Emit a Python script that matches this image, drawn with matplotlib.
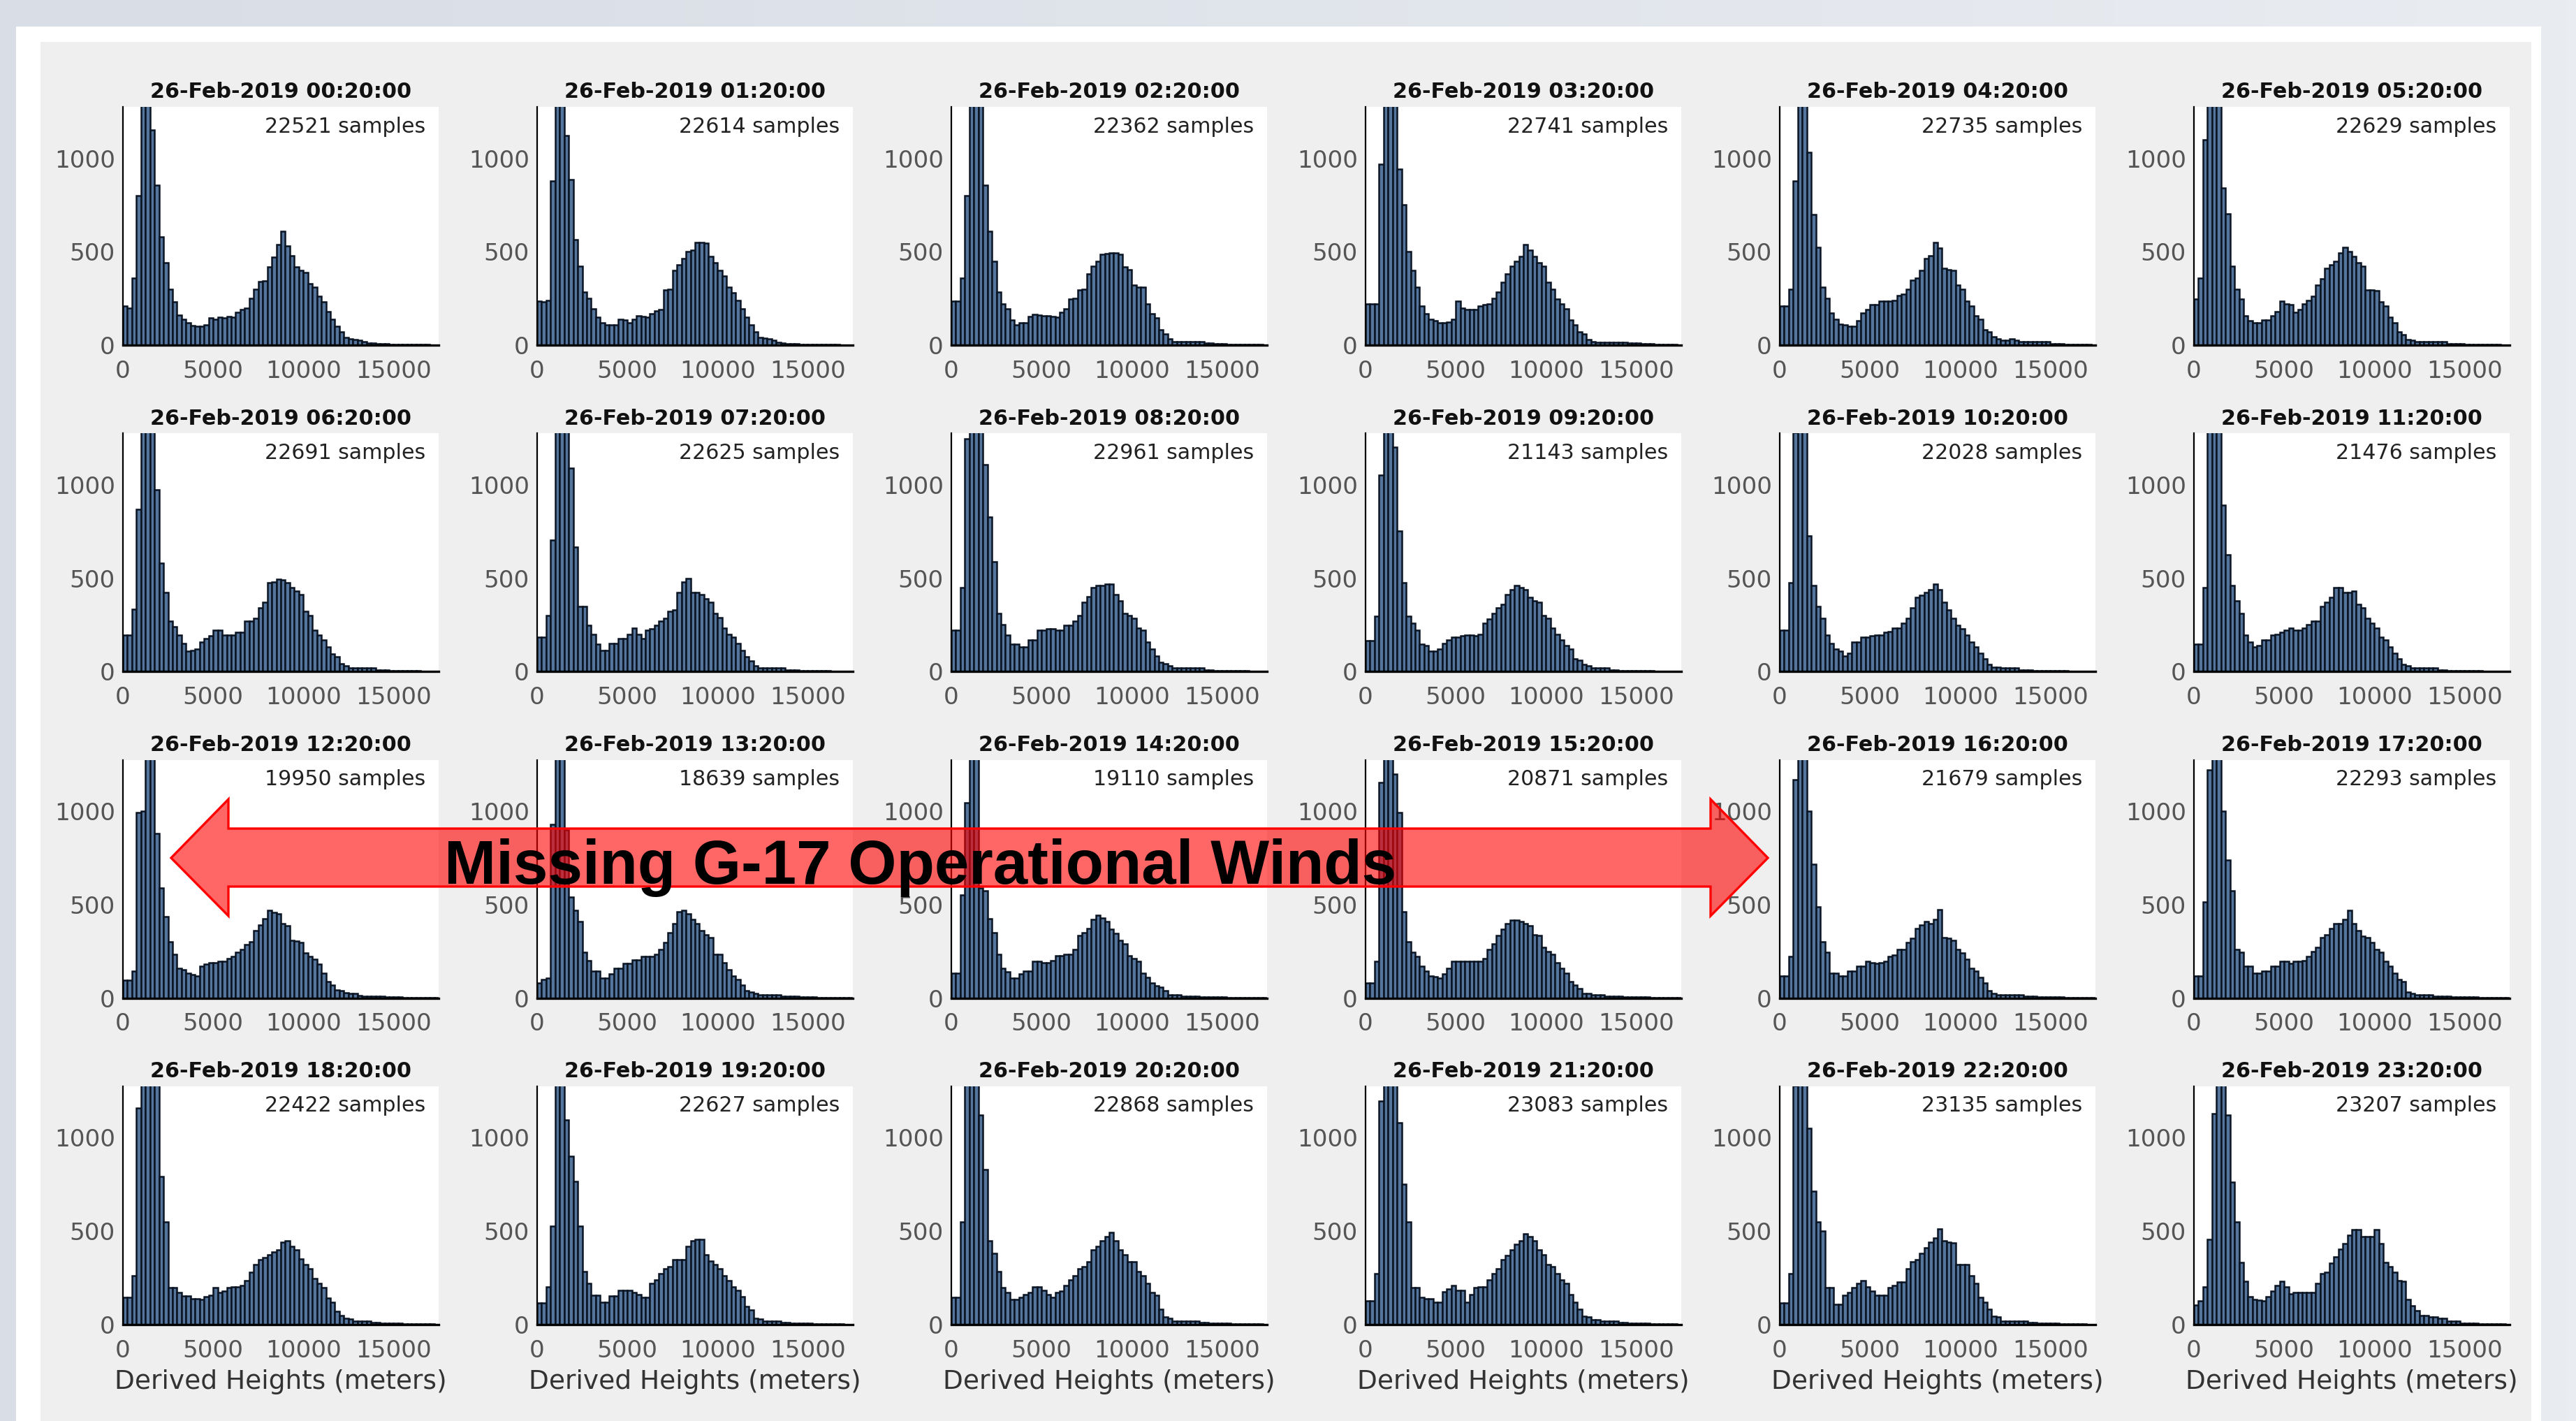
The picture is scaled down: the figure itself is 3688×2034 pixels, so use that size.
import numpy as np
import matplotlib.pyplot as plt
from matplotlib.patches import Rectangle, Polygon

# output size in pixels
W, H = 3688, 2034
DPI = 200

times = ["00:20:00", "01:20:00", "02:20:00", "03:20:00", "04:20:00", "05:20:00",
         "06:20:00", "07:20:00", "08:20:00", "09:20:00", "10:20:00", "11:20:00",
         "12:20:00", "13:20:00", "14:20:00", "15:20:00", "16:20:00", "17:20:00",
         "18:20:00", "19:20:00", "20:20:00", "21:20:00", "22:20:00", "23:20:00"]
titles = ["26-Feb-2019 " + t for t in times]
samples = [22521, 22614, 22362, 22741, 22735, 22629,
           22691, 22625, 22961, 21143, 22028, 21476,
           19950, 18639, 19110, 20871, 21679, 22293,
           22422, 22627, 22868, 23083, 23135, 23207]

# counts per 250 m height bin, 0 - 17500 m
h0020 = [210, 200, 360, 800, 1400, 1400, 1150, 855, 580, 440,
         300, 230, 160, 140, 120, 105, 100, 100, 110, 145,
         140, 150, 145, 155, 150, 175, 190, 200, 250, 300,
         340, 345, 420, 470, 540, 610, 530, 480, 420, 400,
         390, 330, 310, 260, 230, 180, 140, 100, 70, 40,
         35, 30, 25, 20, 12, 10, 8, 8, 6, 5,
         5, 4, 4, 3, 3, 2, 2, 2, 1, 1]
h0120 = [235, 230, 240, 880, 1500, 1500, 1120, 886, 563, 424,
         285, 250, 196, 150, 120, 108, 108, 110, 139, 135,
         120, 140, 158, 152, 150, 170, 184, 190, 297, 300,
         400, 430, 462, 500, 510, 550, 550, 545, 475, 440,
         400, 370, 310, 280, 240, 196, 150, 108, 70, 40,
         38, 32, 28, 14, 10, 8, 7, 6, 5, 5,
         4, 4, 3, 3, 2, 2, 2, 1, 1, 1]
h0220 = [235, 235, 360, 800, 1400, 1500, 1300, 855, 608, 450,
         285, 220, 196, 133, 108, 120, 120, 152, 165, 160,
         158, 158, 152, 150, 175, 196, 247, 250, 297, 300,
         380, 424, 450, 487, 490, 494, 494, 487, 420, 405,
         323, 310, 310, 220, 170, 146, 82, 60, 32, 20,
         19, 19, 18, 17, 18, 17, 12, 10, 8, 6,
         6, 5, 5, 4, 4, 3, 3, 2, 2, 1]
h0320 = [222, 222, 222, 968, 1400, 1400, 1300, 943, 753, 500,
         400, 310, 209, 170, 139, 130, 120, 120, 125, 139,
         234, 200, 190, 190, 190, 209, 215, 222, 250, 285,
         335, 380, 424, 450, 475, 538, 510, 475, 440, 424,
         335, 300, 247, 220, 196, 133, 110, 70, 60, 30,
         19, 15, 15, 15, 15, 15, 14, 14, 12, 12,
         10, 8, 6, 6, 5, 4, 3, 3, 2, 1]
h0420 = [209, 209, 300, 880, 1500, 1500, 1032, 700, 525, 310,
         250, 171, 140, 114, 110, 101, 101, 130, 171, 190,
         215, 215, 234, 234, 234, 240, 265, 272, 300, 348,
         360, 400, 462, 480, 551, 520, 411, 405, 399, 323,
         300, 234, 210, 158, 140, 82, 70, 44, 35, 25,
         25, 32, 28, 19, 19, 19, 19, 19, 19, 19,
         8, 6, 6, 5, 4, 4, 3, 2, 2, 1]
h0520 = [247, 360, 1100, 1400, 1500, 1350, 842, 703, 424, 300,
         247, 158, 130, 120, 120, 133, 133, 158, 180, 234,
         220, 215, 177, 190, 222, 240, 260, 320, 354, 411,
         430, 450, 494, 525, 500, 475, 440, 424, 297, 295,
         291, 230, 209, 150, 120, 70, 57, 30, 25, 19,
         19, 19, 19, 19, 19, 19, 8, 7, 6, 6,
         5, 5, 4, 4, 3, 3, 2, 2, 1, 1]
h0620 = [196, 196, 335, 867, 1400, 1500, 1300, 975, 582, 424,
         272, 240, 196, 150, 108, 114, 120, 158, 175, 190,
         222, 222, 196, 196, 196, 209, 209, 272, 272, 285,
         340, 373, 475, 480, 494, 490, 475, 450, 430, 411,
         323, 300, 222, 196, 170, 133, 95, 80, 44, 30,
         19, 19, 19, 19, 19, 19, 10, 8, 7, 6,
         6, 5, 4, 4, 3, 3, 2, 2, 1, 1]
h0720 = [184, 184, 300, 703, 1500, 1500, 1300, 1089, 665, 348,
         348, 247, 200, 146, 114, 114, 152, 152, 177, 177,
         200, 234, 200, 177, 222, 230, 247, 270, 285, 323,
         330, 424, 480, 500, 424, 424, 411, 390, 373, 310,
         290, 234, 200, 184, 150, 114, 80, 57, 30, 19,
         19, 19, 19, 19, 19, 10, 8, 7, 6, 6,
         5, 4, 4, 3, 3, 2, 2, 1, 1, 1]
h0820 = [222, 222, 450, 1247, 1500, 1500, 1300, 1108, 829, 589,
         310, 250, 196, 146, 146, 133, 133, 171, 171, 222,
         222, 228, 228, 222, 222, 247, 247, 272, 300, 373,
         400, 450, 462, 462, 468, 468, 411, 380, 310, 300,
         285, 234, 220, 158, 120, 82, 50, 44, 30, 19,
         19, 19, 19, 19, 19, 19, 8, 7, 6, 6,
         5, 5, 4, 4, 3, 3, 2, 2, 1, 1]
h0920 = [165, 165, 297, 1051, 1400, 1400, 1200, 753, 475, 297,
         260, 222, 146, 140, 108, 108, 120, 150, 171, 184,
         184, 190, 196, 196, 190, 200, 260, 280, 310, 340,
         360, 411, 440, 462, 450, 437, 399, 380, 373, 300,
         285, 234, 200, 171, 140, 120, 70, 60, 38, 30,
         19, 19, 19, 19, 8, 7, 6, 6, 5, 5,
         4, 4, 3, 3, 2, 2, 2, 1, 1, 1]
h1020 = [222, 222, 475, 1280, 1500, 1400, 728, 462, 350, 285,
         196, 150, 120, 110, 82, 100, 158, 158, 184, 184,
         190, 196, 196, 209, 215, 234, 234, 260, 285, 340,
         399, 410, 424, 437, 468, 440, 373, 330, 285, 247,
         230, 196, 160, 133, 100, 70, 40, 25, 22, 19,
         19, 19, 19, 8, 7, 7, 6, 6, 5, 5,
         4, 4, 3, 3, 2, 2, 2, 1, 1, 1]
h1120 = [146, 146, 450, 1300, 1500, 1500, 892, 627, 462, 380,
         310, 196, 160, 133, 140, 171, 171, 196, 200, 209,
         220, 234, 222, 222, 234, 250, 272, 272, 348, 370,
         399, 450, 450, 424, 424, 430, 360, 340, 285, 260,
         234, 184, 170, 133, 100, 70, 38, 30, 19, 19,
         19, 19, 19, 19, 8, 7, 6, 6, 5, 5,
         4, 4, 3, 3, 2, 2, 2, 1, 1, 1]
h1220 = [95, 95, 146, 994, 1000, 1400, 1300, 880, 589, 437,
         300, 234, 158, 150, 133, 125, 120, 171, 180, 190,
         190, 196, 196, 210, 222, 247, 260, 285, 300, 360,
         390, 424, 468, 460, 450, 400, 386, 310, 305, 297,
         240, 222, 209, 180, 133, 90, 70, 45, 38, 30,
         25, 25, 15, 10, 9, 9, 8, 8, 7, 6,
         6, 5, 4, 4, 3, 3, 2, 2, 1, 1]
h1320 = [80, 100, 108, 930, 1500, 1400, 900, 540, 470, 411,
         247, 200, 146, 146, 108, 108, 130, 158, 158, 184,
         184, 203, 203, 222, 222, 222, 234, 260, 297, 350,
         399, 462, 470, 450, 420, 399, 360, 340, 323, 234,
         234, 190, 150, 120, 100, 70, 40, 32, 25, 19,
         19, 19, 19, 19, 10, 9, 8, 8, 7, 6,
         6, 5, 4, 4, 3, 3, 2, 2, 1, 1]
h1420 = [133, 133, 551, 1044, 1500, 1400, 590, 576, 424, 350,
         234, 158, 140, 108, 108, 130, 146, 146, 196, 196,
         190, 190, 200, 228, 228, 234, 234, 260, 335, 350,
         373, 420, 443, 430, 411, 370, 348, 310, 290, 228,
         210, 196, 133, 110, 82, 65, 57, 40, 19, 19,
         19, 9, 9, 8, 8, 7, 7, 6, 6, 5,
         5, 4, 4, 3, 3, 2, 2, 2, 1, 1]
h1520 = [82, 82, 196, 1152, 1500, 1400, 1200, 994, 462, 300,
         247, 222, 170, 146, 120, 115, 108, 130, 158, 196,
         196, 196, 196, 196, 196, 196, 210, 260, 290, 335,
         370, 399, 418, 418, 411, 400, 386, 340, 335, 272,
         250, 234, 190, 160, 133, 90, 70, 50, 25, 25,
         19, 19, 19, 9, 9, 8, 8, 7, 7, 6,
         6, 5, 5, 4, 4, 3, 3, 2, 2, 1]
h1620 = [120, 120, 222, 1170, 1500, 1500, 1000, 715, 487, 300,
         247, 133, 133, 120, 120, 146, 146, 171, 171, 196,
         190, 184, 190, 196, 222, 230, 260, 260, 297, 320,
         373, 390, 411, 399, 420, 475, 323, 320, 310, 260,
         240, 209, 160, 146, 110, 82, 40, 25, 19, 19,
         19, 19, 19, 19, 9, 8, 8, 7, 7, 6,
         6, 5, 5, 4, 4, 3, 3, 2, 2, 1]
h1720 = [120, 120, 513, 1221, 1500, 1500, 1000, 740, 576, 260,
         247, 171, 171, 133, 133, 146, 146, 171, 171, 196,
         196, 184, 196, 196, 200, 222, 250, 272, 323, 340,
         373, 399, 399, 420, 468, 400, 360, 330, 323, 297,
         260, 247, 196, 170, 133, 100, 89, 32, 25, 19,
         19, 19, 19, 9, 9, 8, 8, 7, 7, 6,
         6, 5, 5, 4, 4, 3, 3, 2, 2, 1]
h1820 = [146, 146, 260, 1158, 1300, 1500, 1500, 1300, 791, 551,
         196, 196, 171, 152, 152, 139, 139, 133, 150, 158,
         196, 171, 180, 196, 203, 203, 210, 234, 280, 323,
         348, 360, 373, 390, 399, 440, 450, 420, 399, 350,
         323, 300, 247, 220, 196, 140, 120, 70, 50, 32,
         30, 19, 19, 19, 19, 9, 9, 8, 8, 7,
         7, 6, 5, 5, 4, 4, 3, 2, 2, 1]
h1920 = [114, 114, 200, 525, 1500, 1500, 1095, 900, 766, 525,
         285, 220, 158, 158, 120, 120, 152, 152, 184, 184,
         184, 171, 160, 146, 146, 222, 240, 272, 297, 310,
         348, 348, 348, 420, 450, 456, 456, 373, 340, 323,
         297, 260, 234, 200, 184, 150, 95, 80, 32, 30,
         19, 19, 19, 19, 9, 9, 8, 8, 7, 7,
         6, 5, 5, 4, 4, 3, 2, 2, 1, 1]
h2020 = [146, 146, 551, 1400, 1500, 1500, 1120, 829, 450, 380,
         285, 196, 170, 133, 133, 146, 160, 171, 203, 203,
         184, 160, 146, 171, 180, 209, 240, 260, 297, 310,
         335, 399, 420, 450, 470, 494, 450, 400, 373, 335,
         335, 285, 260, 222, 170, 158, 82, 40, 32, 19,
         19, 19, 19, 19, 19, 9, 9, 8, 8, 7,
         7, 6, 5, 5, 4, 4, 3, 2, 2, 1]
h2120 = [127, 127, 272, 1196, 1500, 1500, 1300, 1082, 753, 551,
         196, 196, 146, 139, 139, 120, 120, 177, 190, 209,
         184, 184, 120, 160, 196, 203, 203, 240, 272, 300,
         348, 370, 399, 430, 450, 487, 470, 450, 400, 373,
         323, 310, 272, 240, 222, 160, 120, 82, 44, 40,
         25, 25, 19, 19, 19, 19, 9, 9, 8, 8,
         7, 6, 6, 5, 4, 4, 3, 2, 2, 1]
h2220 = [114, 114, 272, 1280, 1500, 1500, 1051, 715, 551, 500,
         196, 196, 108, 108, 158, 170, 196, 220, 234, 203,
         180, 158, 158, 158, 196, 210, 228, 228, 300, 335,
         348, 380, 411, 440, 462, 513, 450, 440, 437, 323,
         323, 323, 260, 222, 146, 120, 82, 44, 40, 19,
         19, 19, 19, 19, 19, 9, 9, 8, 8, 7,
         6, 6, 5, 4, 4, 3, 2, 2, 1, 1]
h2320 = [105, 127, 200, 456, 1129, 1500, 1500, 1121, 763, 551,
         332, 230, 150, 135, 130, 127, 150, 180, 208, 230,
         200, 164, 171, 171, 171, 171, 171, 222, 273, 281,
         330, 361, 405, 434, 480, 507, 507, 471, 471, 471,
         507, 434, 332, 310, 280, 237, 230, 135, 100, 76,
         47, 47, 40, 40, 32, 32, 18, 18, 18, 8,
         7, 7, 6, 5, 5, 4, 3, 3, 2, 1]

hists = [h0020, h0120, h0220, h0320, h0420, h0520,
         h0620, h0720, h0820, h0920, h1020, h1120,
         h1220, h1320, h1420, h1520, h1620, h1720,
         h1820, h1920, h2020, h2120, h2220, h2320]

bin_edges = np.arange(0, 17501, 250)


def px_box(left, top, w, h):
    # pixel box measured from the top-left corner -> figure fraction
    return [left / W, 1 - (top + h) / H, w / W, h / H]


fig = plt.figure(figsize=(W / DPI, H / DPI), dpi=DPI)

# soft blue-grey backdrop, a bit lighter towards the right
bg = fig.add_axes([0, 0, 1, 1], zorder=-20)
grad = np.linspace(0, 1, 256)[None, :]
bg.imshow(grad, cmap=plt.matplotlib.colors.LinearSegmentedColormap.from_list(
    'bg', ['#d8dde6', '#e9ecf1']), aspect='auto', extent=[0, 1, 0, 1])
bg.set_axis_off()

# slide frame: white border, then the light grey plotting area
fig.patches.append(Rectangle((23 / W, 0), (3638 - 23) / W, 1 - 38 / H,
                             transform=fig.transFigure, facecolor='white',
                             edgecolor='none', zorder=-10))
fig.patches.append(Rectangle((58 / W, 0), (3624 - 58) / W, 1 - 60 / H,
                             transform=fig.transFigure, facecolor='#efefef',
                             edgecolor='none', zorder=-9))

AX_W, AX_H = 452, 341
for k, (counts, title, n) in enumerate(zip(hists, titles, samples)):
    r, c = divmod(k, 6)
    ax = fig.add_axes(px_box(176 + 593 * c, 153 + 467.3 * r, AX_W, AX_H))
    ax.set_facecolor('white')
    ax.bar(bin_edges[:-1], counts, width=250, align='edge',
           color='#56759c', edgecolor='#0a1422', linewidth=0.9)
    ax.set_xlim(0, 17500)
    ax.set_ylim(0, 1275)
    ax.set_xticks([0, 5000, 10000, 15000])
    ax.set_yticks([0, 500, 1000])
    ax.tick_params(length=0, labelsize=12.3, colors='#555555')
    ax.tick_params(axis='x', pad=7.5)
    ax.tick_params(axis='y', pad=4)
    for side in ('top', 'right'):
        ax.spines[side].set_visible(False)
    ax.spines['left'].set_linewidth(0.8)
    ax.spines['bottom'].set_linewidth(1.2)
    ax.text(0.5, 1 + 21 / AX_H, title, transform=ax.transAxes,
            ha='center', va='center', fontsize=10.9, fontweight='bold',
            color='#111111')
    ax.text(0.958, 1 - 28 / AX_H, f"{n} samples", transform=ax.transAxes,
            ha='right', va='center', fontsize=10.8, color='#222222')
    if r == 3:
        ax.text(0.5, -82 / AX_H, "Derived Heights (meters)",
                transform=ax.transAxes, ha='center', va='center',
                fontsize=13.5, color='#333333')

# double headed arrow across the gap, in pixel coordinates
arrow_px = [(245, 1228), (327, 1144), (327, 1186), (2449, 1186),
            (2449, 1144), (2531, 1228), (2449, 1311), (2449, 1269),
            (327, 1269), (327, 1311)]
arrow = Polygon([(x / W, 1 - y / H) for x, y in arrow_px], closed=True,
                transform=fig.transFigure, facecolor=(1, 0, 0, 0.6),
                edgecolor='red', linewidth=1.2, zorder=20)
fig.patches.append(arrow)
fig.text(1318 / W, 1 - 1265 / H, "Missing G-17 Operational Winds",
         fontsize=32, fontweight='bold', family='Liberation Sans',
         color='black', ha='center', va='baseline', zorder=21)

fig.savefig('out.png', dpi=DPI)
